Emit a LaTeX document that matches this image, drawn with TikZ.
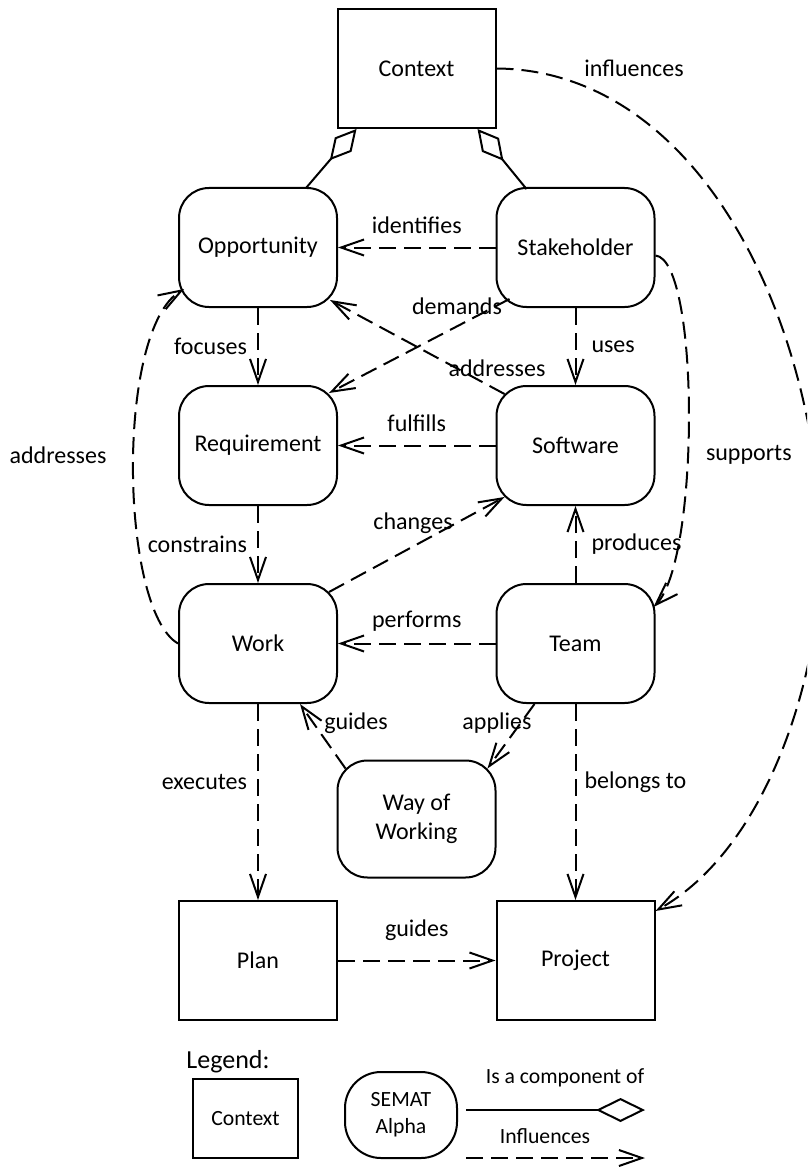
\documentclass[tikz,border=0pt]{standalone}
\usepackage{fontspec}
\setmainfont{Carlito}
\usetikzlibrary{arrows.meta,calc}
\begin{document}
\begin{tikzpicture}[x=1pt,y=-1pt,line width=2pt,
  font=\fontsize{24}{29}\selectfont,
  alpha/.style={draw,rounded corners=30pt,minimum width=158pt,minimum height=119pt,inner sep=0pt,align=center},
  sqbox/.style={draw,minimum width=158pt,minimum height=119pt,inner sep=0pt,align=center},
  infl/.style={dash pattern=on 17pt off 8pt,-{Straight Barb[length=23pt,width=16pt]}},
  comp/.style={-{Diamond[open,length=41pt,width=22pt]}},
  lbl/.style={inner sep=0pt},
  legfont/.style={font=\fontsize{21.7}{27}\selectfont}]
\useasboundingbox (0,0) rectangle (807,1169);
\clip (0,0) rectangle (807,1169);

% nodes
\node[sqbox] (ctx) at (416.5,68.5) {Context};
\node[alpha] (opp) at (258,247.5) {Opportunity};
\node[alpha] (stk) at (575.5,247.5) {Stakeholder};
\node[alpha] (req) at (258,445.5) {Requirement};
\node[alpha] (sw) at (575.5,445.5) {Software};
\node[alpha] (work) at (258,643.5) {Work};
\node[alpha] (team) at (575.5,643.5) {Team};
\node[alpha,minimum height=117pt] (wow) at (416.5,819) {Way of\\Working};
\node[sqbox] (plan) at (258,960.5) {Plan};
\node[sqbox] (proj) at (575.5,960.5) {Project};

% composition
\draw[comp] ($(opp.north east)+(-32,1)$) -- ($(ctx.south west)+(20,0)$);
\draw[comp] ($(stk.north west)+(31,2)$) -- ($(ctx.south east)+(-19,0)$);

% influences
\draw[infl] (ctx.east) .. controls (690,70) and (812,300) .. (822,540)
  .. controls (822,680) and (765,850) .. ($(proj.north east)+(0,11)$);
\node[lbl] (linfl) at (634,68) {influences};

\draw[infl] (stk.west) -- (opp.east) node[lbl,midway,yshift=22pt] {identifies};
\draw[infl] ($(stk.south west)+(14,-9)$) -- ($(req.north east)+(-9,8)$);
\node[lbl] (ldem) at (457,306) {demands};
\draw[infl] ($(sw.north west)+(9,9)$) -- ($(opp.south east)+(-8,-8)$);
\node[lbl] (laddr) at (497,368) {addresses};
\draw[infl] (opp.south) -- (req.north) node[lbl,midway,left=10pt] {focuses};
\draw[infl] (stk.south) -- (sw.north) node[lbl,midway,right=15pt] {uses};
\draw[infl] (sw.west) -- (req.east) node[lbl,midway,yshift=22pt] {fulfills};
\draw[infl] (work.west) .. controls (120,610) and (115,330) .. ($(opp.south west)+(6,-19)$);
\node[lbl] (laddr2) at (58,455) {addresses};
\draw[infl] (req.south) -- (work.north) node[lbl,midway,left=10pt] {constrains};
\draw[infl] ($(work.north east)+(-9,9)$) -- ($(sw.south west)+(9,-9)$);
\node[lbl] (lchg) at (413,523) {changes};
\draw[infl] (team.north) -- (sw.south) node[lbl,midway,right=15pt] {produces};
\draw[infl] ($(stk.east)+(0,8)$) .. controls (700,260) and (700,560) .. ($(team.north east)+(-2,24)$);
\node[lbl,anchor=west] (lsup) at (705,455) {supports};
\draw[infl] (team.west) -- (work.east) node[lbl,midway,yshift=22pt] {performs};
\draw[infl] ($(wow.north west)+(9,9)$) -- ($(work.south east)+(-38,0)$);
\node[lbl] (lguid) at (356,723) {guides};
\draw[infl] ($(team.south west)+(39,0)$) -- ($(wow.north east)+(-9,9)$);
\node[lbl] (lapp) at (497,723) {applies};
\draw[infl] (work.south) -- (plan.north) node[lbl,pos=0.4,left=10pt] {executes};
\draw[infl] (team.south) -- (proj.north) node[lbl,pos=0.4,right=8pt] {belongs to};
\draw[infl] (plan.east) -- (proj.west) node[lbl,midway,yshift=30pt] {guides};

% legend
\node[lbl,font=\fontsize{26}{30}\selectfont] (leg) at (228,1062) {Legend:};
\node[sqbox,legfont,minimum width=105pt,minimum height=79pt] (lctx) at (245.5,1118.5) {Context};
\node[draw,legfont,rounded corners=36pt,minimum width=112pt,minimum height=86pt,inner sep=0pt,align=center] (lalpha) at (401,1115) {SEMAT\\Alpha};
\coordinate (c1) at (466,1110);
\coordinate (c2) at (645,1110);
\draw[-{Diamond[open,length=49pt,width=24pt]}] (c1) -- (c2);
\node[lbl,legfont] (lcomp) at (565,1078) {Is a component of};
\coordinate (d1) at (466,1158);
\coordinate (d2) at (645,1158);
\draw[infl] (d1) -- (d2);
\node[lbl,legfont] (linf) at (545,1136) {Influences};
\end{tikzpicture}
\end{document}
